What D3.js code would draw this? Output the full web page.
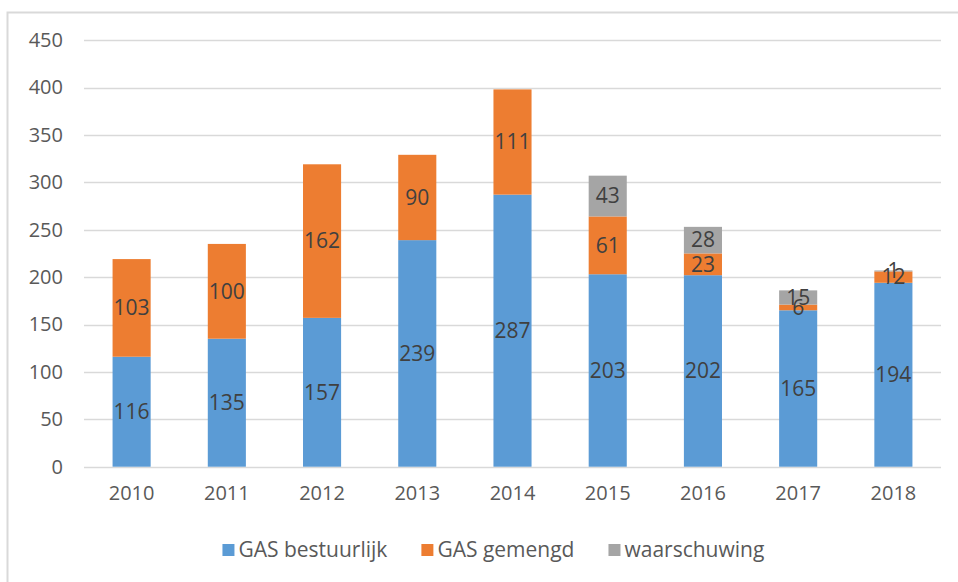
<!DOCTYPE html>
<html>
<head>
<meta charset="utf-8">
<script src="https://cdn.jsdelivr.net/npm/d3@7/dist/d3.min.js"></script>
<style>
  html, body { margin: 0; padding: 0; background: #fff; }
  svg { display: block; }
</style>
</head>
<body>
<svg id="chart" width="958" height="582"></svg>
<script>
const categories = ["2010", "2011", "2012", "2013", "2014", "2015", "2016", "2017", "2018"];
const seriesNames = ["GAS bestuurlijk", "GAS gemengd", "waarschuwing"];
const bestuurlijk = [116, 135, 157, 239, 287, 203, 202, 165, 194];
const gemengd = [103, 100, 162, 90, 111, 61, 23, 6, 12];
const waarschuwing = [0, 0, 0, 0, 0, 43, 28, 15, 1];
const yTicks = [0, 50, 100, 150, 200, 250, 300, 350, 400, 450];
const colors = ["#5B9BD5", "#ED7D31", "#A5A5A5"];

(function () {
const font = "'Open Sans', 'Noto Sans', sans-serif";
const svg = d3.select("#chart");
const W = 958, H = 582;

// frame
svg.append("rect")
  .attr("x", 7.5).attr("y", 12.5)
  .attr("width", W + 10).attr("height", H + 10)
  .attr("fill", "#fff").attr("stroke", "#d9d9d9").attr("stroke-width", 2);

const pLeft = 84, pRight = 941, pTop = 40.1, pBottom = 466.7;

const x = d3.scaleBand().domain(categories).range([pLeft, pRight])
  .paddingInner(0.6).paddingOuter(0.3);
const y = d3.scaleLinear().domain([0, 450]).range([pBottom, pTop]);

// gridlines
svg.append("g").selectAll("line").data(yTicks).join("line")
  .attr("x1", pLeft).attr("x2", pRight)
  .attr("y1", d => Math.round(y(d)) + 0.5).attr("y2", d => Math.round(y(d)) + 0.5)
  .attr("stroke", "#d9d9d9").attr("stroke-width", 1.5);

// y axis labels
const yAxis = d3.axisLeft(y).tickValues(yTicks).tickSize(0).tickPadding(21);
const gy = svg.append("g").attr("transform", `translate(${pLeft},0)`).call(yAxis);
gy.select(".domain").remove();
gy.selectAll("text").attr("fill", "#595959").style("font-family", font).style("font-size", "20px");

// x axis labels
const xAxis = d3.axisBottom(x).tickSize(0).tickPadding(19);
const gx = svg.append("g").attr("transform", `translate(0,${pBottom})`).call(xAxis);
gx.select(".domain").remove();
gx.selectAll("text").attr("fill", "#595959").style("font-family", font).style("font-size", "20px");

// stacked data
const rows = categories.map((c, i) => ({cat: c, s0: bestuurlijk[i], s1: gemengd[i], s2: waarschuwing[i]}));
const stacked = d3.stack().keys(["s0", "s1", "s2"])(rows);

const layers = svg.append("g").selectAll("g").data(stacked).join("g")
  .attr("fill", (d, i) => colors[i]);

layers.selectAll("rect").data(d => d.filter(p => p[1] - p[0] > 0)).join("rect")
  .attr("x", d => x(d.data.cat))
  .attr("width", x.bandwidth())
  .attr("y", d => y(d[1]))
  .attr("height", d => y(d[0]) - y(d[1]));

// data labels
const labels = svg.append("g");
stacked.forEach((layer) => {
  layer.forEach(p => {
    const v = p[1] - p[0];
    if (v <= 0) return;
    labels.append("text")
      .attr("x", x(p.data.cat) + x.bandwidth() / 2)
      .attr("y", (y(p[0]) + y(p[1])) / 2)
      .attr("dy", "0.35em")
      .attr("text-anchor", "middle")
      .attr("fill", "#404040")
      .style("font-family", font)
      .style("font-size", "21px")
      .text(v);
  });
});

// legend
const legend = svg.append("g");
let cx = 0;
const gap = 34;
seriesNames.forEach((name, i) => {
  const g = legend.append("g");
  g.append("rect").attr("x", 0).attr("y", -6).attr("width", 12).attr("height", 12).attr("fill", colors[i]);
  const t = g.append("text").attr("x", 16).attr("y", 0).attr("dy", "0.35em")
    .attr("fill", "#595959").style("font-family", font).style("font-size", "21px").text(name);
  const w = 16 + t.node().getComputedTextLength();
  g.attr("transform", `translate(${cx},0)`);
  cx += w + gap;
});
const totalW = cx - gap;
legend.attr("transform", `translate(${493.4 - totalW / 2},550)`);
})();
</script>
</body>
</html>
